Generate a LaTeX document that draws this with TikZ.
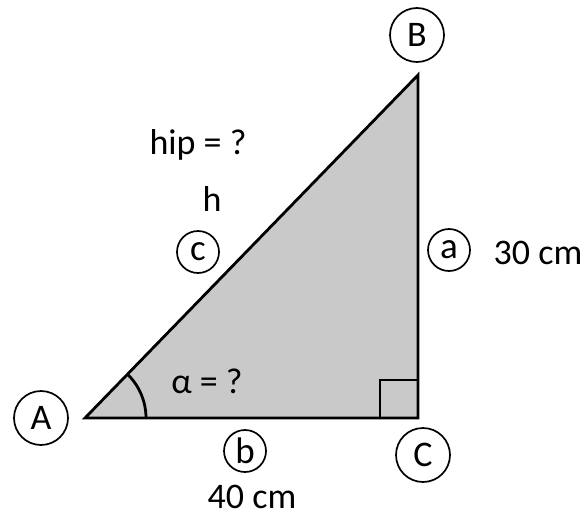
\documentclass[tikz,border=0pt]{standalone}
\usepackage{fontspec}
\setmainfont{Carlito}
\begin{document}
\begin{tikzpicture}[x=1pt,y=-1pt,
  big/.style={circle,draw,line width=1.7pt,minimum size=54pt,inner sep=0pt,font=\fontsize{36}{36}\selectfont},
  small/.style={circle,draw,line width=1.7pt,minimum size=42pt,inner sep=0pt,font=\fontsize{37}{37}\selectfont},
  txt/.style={inner sep=0pt,font=\fontsize{36}{36}\selectfont},
  edge/.style={line width=2.8pt,line join=miter}]
\useasboundingbox (0,0) rectangle (585,519);
\coordinate (vA) at (85,418);
\coordinate (vB) at (418,75);
\coordinate (vC) at (418,418);
\fill[gray!42] (vA) -- (vB) -- (vC) -- cycle;
\draw[edge] (380,418) -- (380,380) -- (418,380);
\draw[edge] (146,418) arc[start angle=0,end angle=-45.8,radius=61];
\draw[edge] (vA) -- (vB) -- (vC) -- cycle;
\node[big] (A) at (41,418) {A};
\node[big] (B) at (417,35) {B};
\node[big] (C) at (423,455) {C};
\node[small] (a) at (449,250) {a};
\node[small] (b) at (245,451) {b};
\node[small] (c) at (198,252) {c};
\node[txt] (hip) at (198,145) {hip = ?};
\node[txt] (h) at (212,199) {h};
\node[txt] (len30) at (538,253) {30 cm};
\node[txt] (len40) at (252,497) {40 cm};
\node[txt] (alpha) at (207,381) {α = ?};
\end{tikzpicture}
\end{document}
